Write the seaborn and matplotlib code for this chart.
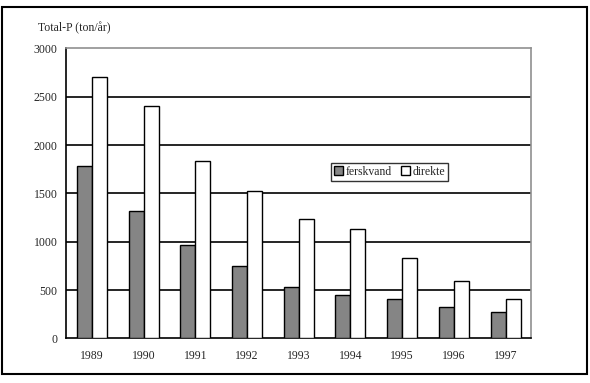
import numpy as np
import pandas as pd
import seaborn as sns
import matplotlib.pyplot as plt
from matplotlib.patches import Rectangle

years = ["1989", "1990", "1991", "1992", "1993", "1994", "1995", "1996", "1997"]
ferskvand = [1780, 1320, 970, 745, 530, 455, 412, 330, 270]
direkte = [2700, 2400, 1840, 1530, 1240, 1130, 830, 592, 405]
series = ["ferskvand", "direkte"]
colors = ["#858585", "white"]

df = pd.DataFrame({
    "year": years * 2,
    "value": ferskvand + direkte,
    "serie": [series[0]] * len(years) + [series[1]] * len(years),
})

sns.set_style("white")
plt.rcParams["font.family"] = ["Liberation Serif", "DejaVu Serif"]
plt.rcParams["font.size"] = 8.5

fig = plt.figure(figsize=(5.9, 3.83), dpi=100)
ax = fig.add_axes([0.1119, 0.1162, 0.7889, 0.7572])

sns.barplot(data=df, x="year", y="value", hue="serie", palette=colors,
            width=0.58, gap=0, edgecolor="black", linewidth=1, ax=ax,
            zorder=3)

ax.set_ylim(0, 3000)
ax.set_xlim(-0.5, 8.5)
ax.set_yticks(np.arange(0, 3001, 500))
for v in range(500, 3000, 500):
    ax.axhline(v, color="black", lw=1.2, zorder=1)

ax.set_xlabel("")
ax.set_ylabel("")
ax.set_xticks(np.arange(-0.5, 9, 1), minor=True)
ax.tick_params(axis="x", which="major", length=0, pad=8, labelsize=8.5)
ax.tick_params(axis="x", which="minor", length=4, width=1, color="black", direction="out")
ax.tick_params(axis="y", length=4, width=1, color="black", direction="out", pad=2, labelsize=8.5)

for s in ["top", "right"]:
    ax.spines[s].set_color("#909090")
    ax.spines[s].set_linewidth(1.2)
for s in ["left", "bottom"]:
    ax.spines[s].set_color("black")
    ax.spines[s].set_linewidth(1.2)

leg = ax.legend(loc="center", bbox_to_anchor=(0.695, 0.575), ncol=2, frameon=True,
                fancybox=False, edgecolor="black", handlelength=0.8,
                handleheight=0.8, handletextpad=0.2, columnspacing=0.8,
                borderpad=0.25, fontsize=8.5)
leg.get_frame().set_linewidth(1)

fig.text(38 / 590, 1 - 28 / 383, "Total-P (ton/år)", fontsize=8.5, va="center", ha="left")

fig.patches.append(Rectangle((2 / 590, 1 - 374 / 383), 585 / 590, 367 / 383,
                             transform=fig.transFigure, fill=False,
                             edgecolor="black", lw=1.5))

fig.savefig("out.png", dpi=100)
